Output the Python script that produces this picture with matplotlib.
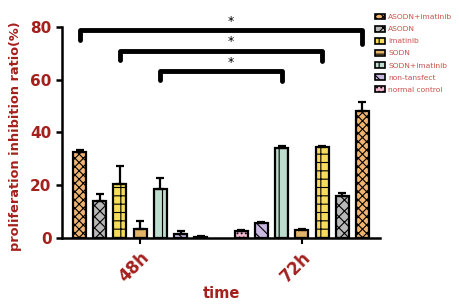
import numpy as np
import matplotlib
matplotlib.use("Agg")
from matplotlib import pyplot as plt
from matplotlib.patches import Patch

# -------------------- data --------------------
groups = ["48h", "72h"]
treatments = ["ASODN+imatinib", "ASODN", "imatinib", "SODN",
              "SODN+imatinib", "non-tansfect", "normal control"]
# values per treatment, same order as above
vals_48h = [32.7, 13.8, 20.4, 3.4, 18.5, 1.5, 0.5]
err_48h = [0.5, 2.9, 7.0, 3.0, 4.2, 1.3, 0.2]
vals_72h = [48.1, 15.7, 34.4, 3.0, 34.0, 5.8, 2.6]
err_72h = [3.3, 1.5, 0.6, 0.4, 0.8, 0.3, 0.3]
# brackets: (treatment index, height, left drop, right drop)
sig_pairs = [(0, 78.9, 75.0, 73.5), (2, 71.0, 67.5, 67.0), (4, 63.3, 60.0, 59.5)]

# -------------------- styles --------------------
dark_red = "#a3201d"
legend_red = "#c8504a"
faces = ["#f0b46e", "#b8b8b8", "#f6dc5a", "#e2b469", "#bcdccd", "#c9b8e0", "#f2b8d0"]
hatches = ["xxxx", "xxx", "++", "--", "||", "\\\\\\", "...."]

plt.rcParams["hatch.linewidth"] = 0.8
plt.rcParams["font.family"] = ["DejaVu Sans"]

fig = plt.figure(figsize=(4.59, 3.05), dpi=100)
ax = fig.add_axes([0.135, 0.22, 0.693, 0.744])

n = len(treatments)
pos48 = np.arange(n)
# 72h group is drawn in mirrored order
pos72 = 8 + (n - 1 - np.arange(n))
width = 0.64

for i in range(n):
    for p, v, e in ((pos48[i], vals_48h[i], err_48h[i]), (pos72[i], vals_72h[i], err_72h[i])):
        ax.bar(p, v, width, color=faces[i], edgecolor="black", linewidth=1.6,
               hatch=hatches[i], zorder=2)
        ax.errorbar(p, v, yerr=[[0], [e]], fmt="none", ecolor="black",
                    elinewidth=1.6, capsize=3, capthick=1.6, zorder=3)

# significance brackets
for i, h, dl, dr in sig_pairs:
    x0, x1 = pos48[i], pos72[i]
    ax.plot([x0, x0, x1, x1], [dl, h, h, dr], color="black", lw=3.5,
            solid_capstyle="round", solid_joinstyle="round", clip_on=False, zorder=4)
    ax.text((x0 + x1) / 2 + 0.5, h + 0.8, "*", ha="center", va="bottom",
            fontsize=9, color="black")

ax.set_xlim(-0.87, 14.87)
ax.set_ylim(0, 86)
ax.spines["top"].set_visible(False)
ax.spines["right"].set_visible(False)
ax.spines["left"].set_linewidth(1.8)
ax.spines["bottom"].set_linewidth(1.8)
ax.spines["left"].set_bounds(0, 80)

ax.set_yticks([0, 20, 40, 60, 80])
ax.tick_params(axis="y", width=1.8, length=4, labelsize=11, labelcolor=dark_red)
ax.tick_params(axis="x", width=1.5, length=4)
for lab in ax.get_yticklabels():
    lab.set_fontweight("bold")

ax.set_xticks([pos48[3], pos72[3]])
ax.set_xticklabels(groups, rotation=45, ha="right", rotation_mode="anchor",
                   fontsize=12, fontweight="bold", color=dark_red)

ax.set_ylabel("proliferation inhibition ratio(%)", fontsize=9.3,
              fontweight="bold", color=dark_red)
ax.yaxis.set_label_coords(-0.125, 0.45)
ax.set_xlabel("time", fontsize=10.5, fontweight="bold", color=dark_red)
ax.xaxis.set_label_coords(0.5, -0.21)

handles = [Patch(facecolor=faces[i], edgecolor="black", hatch=hatches[i], linewidth=1.2)
           for i in range(n)]
leg = fig.legend(handles, treatments, loc="upper left", bbox_to_anchor=(0.81, 0.965),
                 frameon=False, fontsize=5.4, handlelength=1.3, handleheight=0.8,
                 labelspacing=0.75, handletextpad=0.5, borderaxespad=0)
for t in leg.get_texts():
    t.set_color(legend_red)

fig.savefig("out.png", dpi=100)
